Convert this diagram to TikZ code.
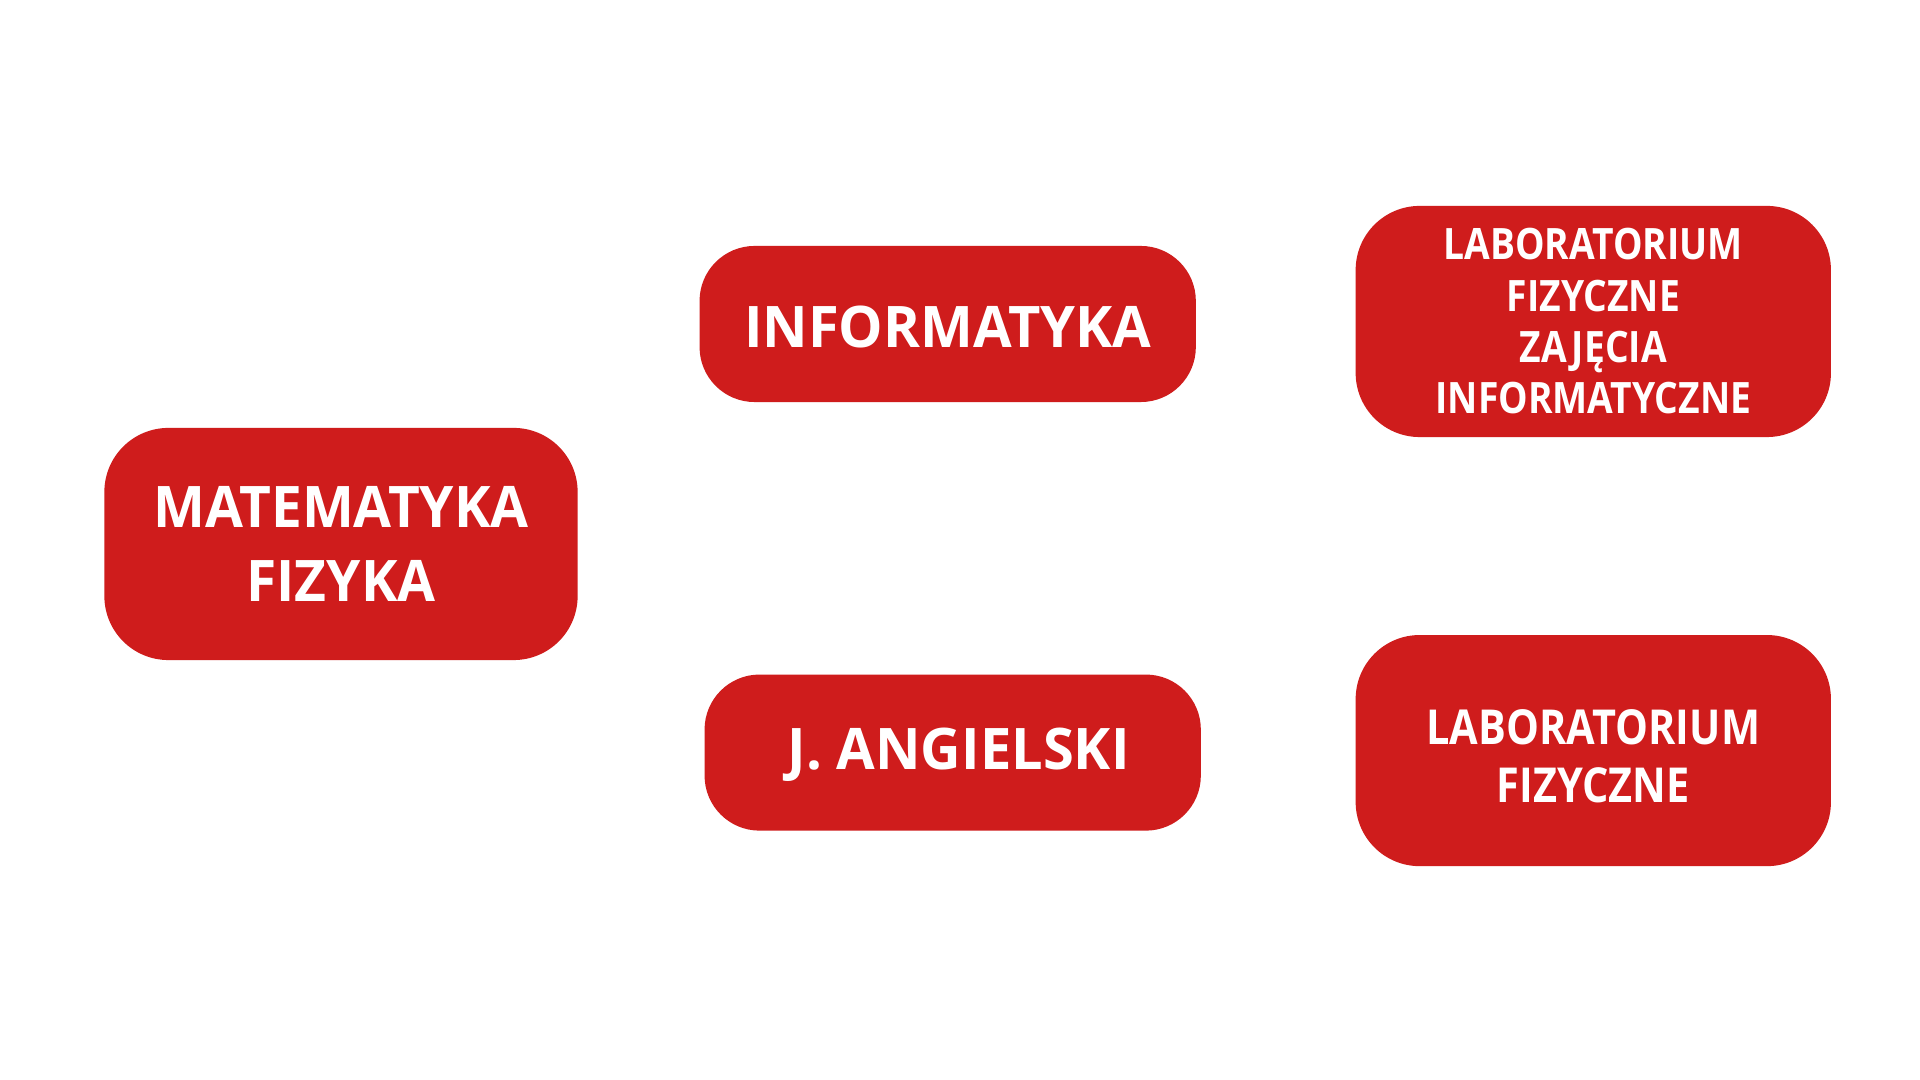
\documentclass[tikz,border=0pt]{standalone}
\usepackage{fontspec}
\setmainfont{Open Sans}
\newfontfamily\widefont{Open Sans}[FakeStretch=0.96]
\newfontfamily\midfont{Open Sans}[FakeStretch=0.977]
\newfontfamily\narrowfont{Open Sans}[FakeStretch=0.86]
\definecolor{subjred}{RGB}{207,28,28}

\begin{document}
\begin{tikzpicture}[x=0.01cm, y=-0.01cm,
    subject/.style={fill=subjred, text=white, align=center, inner sep=0pt},
    bigbox/.style={subject, rounded corners=0.64cm, minimum width=4.75cm, minimum height=2.31cm},
    widebox/.style={subject, rounded corners=0.55cm, minimum width=4.96cm, minimum height=1.56cm,
        font=\midfont\bfseries\fontsize{16.3}{21.3}\selectfont}]
    % Page
    \useasboundingbox (0,0) rectangle (1920,1080);
    \fill[white] (0,0) rectangle (1920,1080);

    % Left column
    \node[bigbox, minimum width=4.73cm, minimum height=2.32cm,
        font=\widefont\bfseries\fontsize{16.3}{21.3}\selectfont] (matfiz) at (341,544) {MATEMATYKA\\FIZYKA};

    % Middle column
    \node[widebox, text height=13.4pt, text depth=0pt] (info) at (947.7,324) {INFORMATYKA};
    \node[widebox, text height=11.6pt, text depth=2.1pt] (angielski) at (952.7,752.6) {\hspace*{0.12cm}J. ANGIELSKI};

    % Right column
    \node[bigbox, font=\narrowfont\bfseries\fontsize{12.3}{14.6}\selectfont] (labinfo) at (1593.3,321.5)
        {LABORATORIUM\\FIZYCZNE\\ZAJĘCIA\\INFORMATYCZNE};
    \node[bigbox, text height=29.5pt, text depth=0pt,
        font=\narrowfont\bfseries\fontsize{13.7}{16.6}\selectfont] (labfiz) at (1593.3,750.6)
        {LABORATORIUM\\FIZYCZNE};
\end{tikzpicture}
\end{document}
